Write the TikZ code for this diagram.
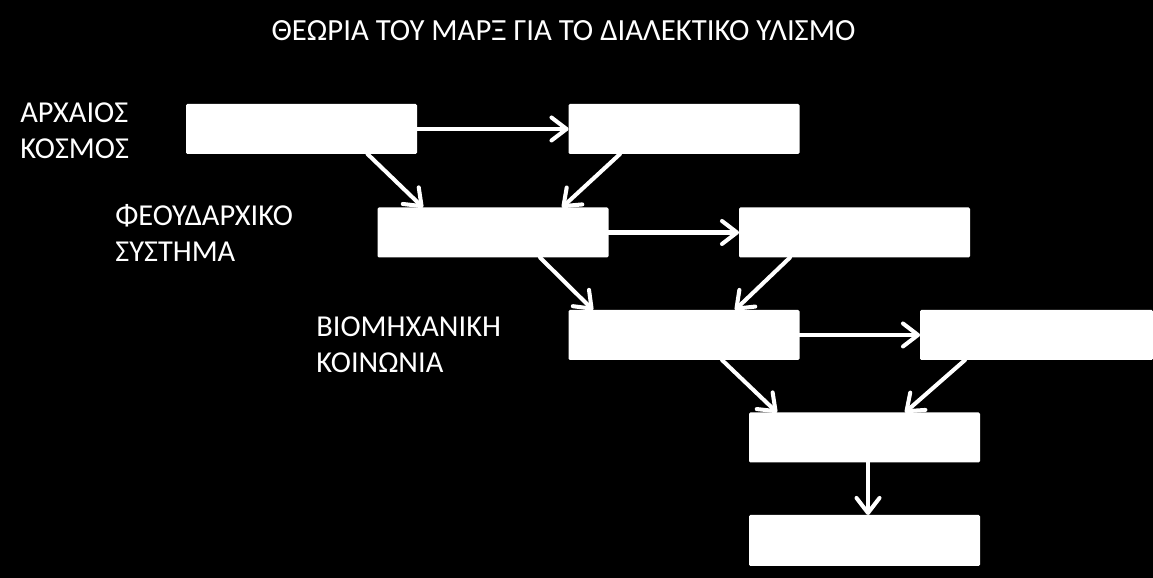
\documentclass[tikz,border=0pt]{standalone}
\usepackage{fontspec}
\setmainfont{Carlito}
\usepackage{tikz}
\usetikzlibrary{arrows.meta,positioning,calc}

\begin{document}
\begin{tikzpicture}[
    stagebox/.style={fill=white, rounded corners=0.8pt, minimum width=4.62cm, minimum height=1.0cm, inner sep=0pt, outer sep=0pt},
    eralabel/.style={anchor=west, align=left, text=white, inner sep=0pt, font=\fontsize{17.3}{20.4}\selectfont},
    flow/.style={-{Straight Barb[round, length=3mm, width=4.6mm]}, white, line width=2.3pt, line cap=round}]
  \fill[black] (0,0) rectangle (23.06,-11.56);
  \useasboundingbox (0,0) rectangle (23.06,-11.56);

  \node[text=white, inner sep=0pt, font=\fontsize{17.5}{20}\selectfont] (title) at (11.27,-0.62) {ΘΕΩΡΙΑ ΤΟΥ ΜΑΡΞ ΓΙΑ ΤΟ ΔΙΑΛΕΚΤΙΚΟ ΥΛΙΣΜΟ};

  \node[eralabel] (ancient) at (0.40,-2.61) {ΑΡΧΑΙΟΣ\\ΚΟΣΜΟΣ};
  \node[eralabel] (feudal) at (2.30,-4.66) {ΦΕΟΥΔΑΡΧΙΚΟ\\ΣΥΣΤΗΜΑ};
  \node[eralabel] (industry) at (6.32,-6.90) {ΒΙΟΜΗΧΑΝΙΚΗ\\ΚΟΙΝΩΝΙΑ};

  \node[stagebox] (b1) at (6.03,-2.58) {};
  \node[stagebox] (b2) at (13.68,-2.58) {};
  \node[stagebox] (b3) at (9.86,-4.65) {};
  \node[stagebox] (b4) at (17.09,-4.65) {};
  \node[stagebox] (b5) at (13.68,-6.70) {};
  \node[stagebox, minimum width=4.66cm] (b6) at (20.73,-6.70) {};
  \node[stagebox] (b7) at (17.29,-8.75) {};
  \node[stagebox, minimum height=1.02cm] (b8) at (17.29,-10.81) {};

  % horizontal steps
  \draw[flow] (b1) -- (b2);
  \draw[flow] (b3) -- (b4);
  \draw[flow] (b5) -- (b6);

  % diagonal steps
  \draw[flow] ([xshift=1.32cm]b1.south) -- ([xshift=-1.40cm]b3.north);
  \draw[flow] ([xshift=-1.28cm]b2.south) -- ([xshift=1.38cm]b3.north);
  \draw[flow] ([xshift=0.94cm]b3.south) -- ([xshift=-1.82cm]b5.north);
  \draw[flow] ([xshift=-1.29cm]b4.south) -- ([xshift=1.02cm]b5.north);
  \draw[flow] ([xshift=0.76cm]b5.south) -- ([xshift=-1.75cm]b7.north);
  \draw[flow] ([xshift=-1.43cm]b6.south) -- ([xshift=0.81cm]b7.north);
  \draw[flow] ([xshift=0.07cm]b7.south) -- ([xshift=0.07cm]b8.north);
\end{tikzpicture}
\end{document}
